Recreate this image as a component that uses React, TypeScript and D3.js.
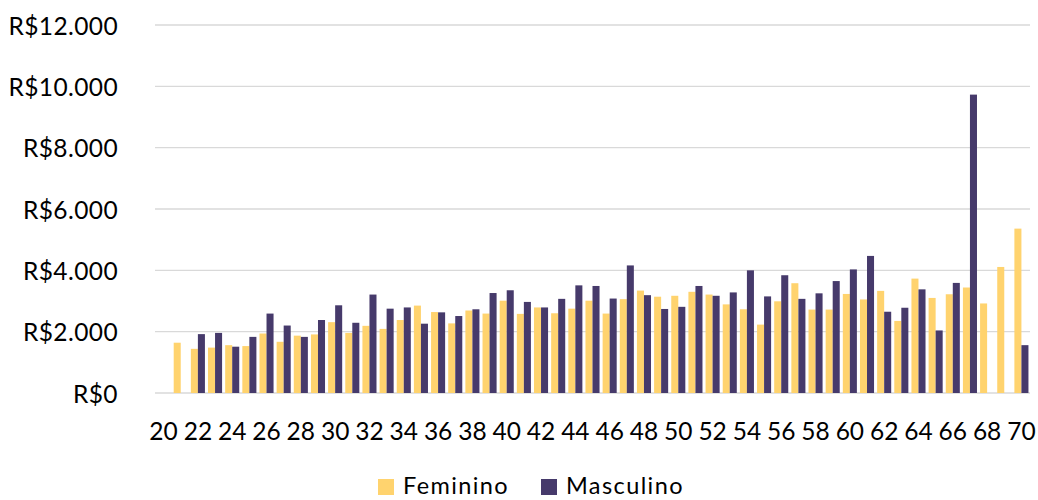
import React from "react";
import * as d3 from "d3";

const ages: number[] = d3.range(20, 71);
const feminino: (number | null)[] = [
  null, 1640, 1440, 1480, 1560, 1530, 1940, 1670, 1870, 1910,
  2310, 1960, 2190, 2090, 2380, 2850, 2640, 2270, 2690, 2590,
  3010, 2580, 2790, 2600, 2750, 3010, 2590, 3060, 3340, 3140,
  3170, 3300, 3210, 2890, 2730, 2230, 2990, 3580, 2720, 2720,
  3230, 3050, 3330, 2350, 3730, 3100, 3220, 3440, 2920, 4110,
  5360,
];
const masculino: (number | null)[] = [
  null, null, 1920, 1960, 1510, 1830, 2590, 2200, 1830, 2380,
  2860, 2290, 3210, 2750, 2790, 2260, 2630, 2510, 2730, 3260,
  3350, 2970, 2790, 3070, 3510, 3490, 3080, 4160, 3190, 2740,
  2810, 3490, 3170, 3280, 4000, 3150, 3840, 3070, 3250, 3650,
  4030, 4470, 2650, 2780, 3380, 2040, 3590, 9730, null, null,
  1560,
];
const seriesNames = ["Feminino", "Masculino"];
const seriesColors = ["#FFD36E", "#463A6B"];
const yTicks = [0, 2000, 4000, 6000, 8000, 10000, 12000];
const xTickLabels = ages.filter((a) => a % 2 === 0);

const W = 1038;
const H = 500;
const FONT = "Lato, 'Open Sans', sans-serif";

function fmt(v: number) {
  return "R$" + d3.format(",")(v).replace(/,/g, ".");
}

export default function App() {
  const x = d3
    .scaleBand<number>()
    .domain(ages)
    .range([155, 1030])
    .paddingInner(0.18)
    .paddingOuter(0.09);
  const xs = d3
    .scaleBand<string>()
    .domain(seriesNames)
    .range([0, x.bandwidth()]);
  const y = d3.scaleLinear().domain([0, 12000]).range([393, 25]);
  const data = [feminino, masculino];

  return (
    <svg
      width={W}
      height={H}
      style={{ position: "absolute", left: 0, top: 0, background: "#fff" }}
      fontFamily={FONT}
    >
      {yTicks.map((t) => (
        <g key={t}>
          <line
            x1={155}
            x2={1030}
            y1={y(t)}
            y2={y(t)}
            stroke="#D9D9D9"
            strokeWidth={1.3}
          />
          <text
            x={118}
            y={y(t)}
            textAnchor="end"
            dominantBaseline="central"
            fontSize={24.5}
            letterSpacing={0.4}
            fill="#000"
          >
            {fmt(t)}
          </text>
        </g>
      ))}
      {data.map((vals, si) =>
        vals.map((v, i) =>
          v == null ? null : (
            <rect
              key={si + "-" + i}
              x={(x(ages[i]) as number) + (xs(seriesNames[si]) as number)}
              y={y(v)}
              width={xs.bandwidth()}
              height={y(0) - y(v)}
              fill={seriesColors[si]}
            />
          )
        )
      )}
      {xTickLabels.map((a) => (
        <text
          key={a}
          x={(x(a) as number) + x.bandwidth() / 2}
          y={440}
          textAnchor="middle"
          fontSize={24.5}
          fill="#000"
        >
          {a}
        </text>
      ))}
      {seriesNames.map((n, i) => {
        const lx = [378, 541][i];
        return (
          <g key={n}>
            <rect x={lx} y={479} width={16} height={16} fill={seriesColors[i]} />
            <text
              x={lx + 25}
              y={494}
              fontSize={23.5}
              letterSpacing={1.4}
              fill="#000"
            >
              {n}
            </text>
          </g>
        );
      })}
    </svg>
  );
}
